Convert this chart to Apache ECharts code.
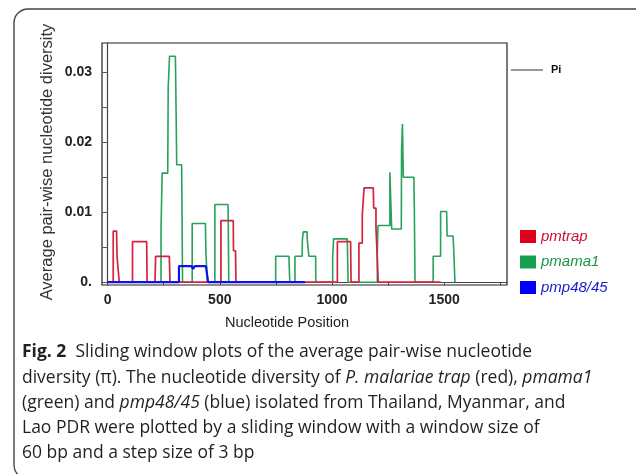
<!DOCTYPE html>
<html>
<head>
<meta charset="utf-8">
<script src="https://cdn.jsdelivr.net/npm/echarts@6/dist/echarts.min.js"></script>
<style>
  html, body { margin: 0; background: #fff; }
  #main { width: 636px; height: 474px; }
</style>
</head>
<body>
<div id="main"></div>
<script>
// sliding window vertices: position (bp) and Pi
const trapPos = [0, 25, 25, 40, 42, 50, 52, 111, 111, 174, 176, 211, 214, 275, 278,
  505, 505, 560, 561, 570, 572, 1024, 1024, 1083, 1085,
  1120, 1120, 1135, 1135, 1143, 1143, 1184, 1186, 1196, 1196, 1201, 1201, 1205, 1206, 1484];
const trapPi = [0, 0, .0073, .0073, .0037, .0037, 0, 0, .0058, .0058, 0, 0, .0037, .0037, 0,
  0, .0088, .0088, .0045, .0045, 0, 0, .0058, .0058, 0,
  0, .0056, .0056, .0096, .0096, .0135, .0135, .0106, .0106, .0079, .0079, .0041, .0041, 0, 0];

const mamaPos = [0, 238, 238, 243, 243, 268, 270, 276, 276, 302, 304, 308, 308, 330, 334,
  377, 377, 436, 438, 443, 445, 478, 478, 537, 540, 749, 749, 808, 812,
  835, 835, 867, 868, 872, 872, 889, 890, 895, 897, 927, 928,
  1003, 1003, 1007, 1007, 1068, 1072,
  1202, 1202, 1205, 1205, 1258, 1258, 1266, 1266, 1309, 1310, 1314, 1314, 1318, 1318, 1365, 1367, 1370,
  1451, 1451, 1484, 1484, 1511, 1513, 1540, 1548];
const mamaPi = [0, 0, .0075, .0075, .0156, .0156, .0278, .0278, .0323, .0323, .0278, .0278, .0168, .0168, 0,
  0, .0084, .0084, .0042, .0042, 0, 0, .0111, .0111, 0, 0, .0037, .0037, 0,
  0, .0037, .0037, .006, .006, .0072, .0072, .006, .006, .0037, .0037, 0,
  0, .0034, .0034, .0062, .0062, 0,
  0, .0045, .0045, .0081, .0081, .0157, .0157, .0076, .0076, .0187, .0187, .0226, .0226, .015, .015, .0106, 0,
  0, .0037, .0037, .0101, .0101, .0066, .0066, 0];

const mpPos = [0, 318, 318, 374, 381, 388, 438, 448, 880];
const mpPi = [0, 0, .0023, .0023, .0019, .0023, .0023, 0, 0];

const yTicks = [0, 0.005, 0.01, 0.015, 0.02, 0.025, 0.03];
const yLabels = [0, 0.01, 0.02, 0.03];
const xTicks = [0, 250, 500, 750, 1000, 1250, 1500, 1750];
const xLabels = [0, 500, 1000, 1500];

function pairs(xs, ys) {
  return xs.map((x, i) => [x, ys[i]]);
}

const chart = echarts.init(document.getElementById('main'));
const tickFont = '"Liberation Sans", Arial, sans-serif';
const capFont = '"Open Sans", "Noto Sans", sans-serif';

function capLine(y, text) {
  return {
    type: 'text', left: 22, top: y,
    style: {
      text: text,
      font: '17.5px ' + capFont,
      fill: '#231f20',
      rich: {
        b: { fontWeight: 'bold', fontSize: 17.5, fontFamily: capFont, fill: '#231f20' },
        i: { fontStyle: 'italic', fontSize: 17.5, fontFamily: capFont, fill: '#231f20' }
      }
    }
  };
}

chart.setOption({
  animation: false,
  backgroundColor: '#fff',
  grid: {
    left: 102, right: 129, top: 43, bottom: 189,
    show: true, borderColor: '#222', borderWidth: 1.2, backgroundColor: 'transparent'
  },
  xAxis: {
    type: 'value', min: -25, max: 1780,
    axisLine: { show: true, lineStyle: { color: '#444', width: 1.2 } },
    axisTick: { show: true, length: 3, lineStyle: { color: '#444' }, customValues: xTicks },
    axisLabel: {
      customValues: xLabels, margin: 8,
      fontFamily: tickFont, fontWeight: 'bold', fontSize: 14, color: '#222',
      formatter: v => String(v)
    },
    splitLine: { show: false }
  },
  yAxis: {
    type: 'value', min: -0.0004, max: 0.0342,
    axisLine: { show: true, lineStyle: { color: '#444', width: 1.2 } },
    axisTick: { show: true, length: 5, lineStyle: { color: '#555' }, customValues: yTicks },
    axisLabel: {
      customValues: yLabels, margin: 10,
      fontFamily: tickFont, fontWeight: 'bold', fontSize: 14, color: '#222',
      formatter: v => (v === 0 ? '0.' : v.toFixed(2))
    },
    splitLine: { show: false }
  },
  legend: {
    orient: 'vertical', left: 515, top: 224,
    icon: 'rect', itemWidth: 16, itemHeight: 13, itemGap: 10.5,
    textStyle: { fontFamily: tickFont, fontStyle: 'italic', fontSize: 15 },
    data: [
      { name: 'pmtrap', itemStyle: { color: '#e0001c' }, textStyle: { color: '#cc1133' } },
      { name: 'pmama1', itemStyle: { color: '#14a050' }, textStyle: { color: '#17954a' } },
      { name: 'pmp48/45', itemStyle: { color: '#0000ff' }, textStyle: { color: '#1a1acc' } }
    ]
  },
  series: [
    {
      name: 'pmama1', type: 'line', data: pairs(mamaPos, mamaPi),
      showSymbol: false, z: 2,
      lineStyle: { color: '#26a25a', width: 1.6 }, itemStyle: { color: '#26a25a' }
    },
    {
      name: 'pmtrap', type: 'line', data: pairs(trapPos, trapPi),
      showSymbol: false, z: 3,
      lineStyle: { color: '#d4223f', width: 1.7 }, itemStyle: { color: '#d4223f' }
    },
    {
      name: 'pmp48/45', type: 'line', data: pairs(mpPos, mpPi),
      showSymbol: false, z: 4,
      lineStyle: { color: '#1010e8', width: 2.2 }, itemStyle: { color: '#1010e8' }
    }
  ],
  graphic: [
    {
      type: 'rect', z: -1,
      shape: { x: 14, y: 9, width: 640, height: 470, r: 14 },
      style: { fill: 'none', stroke: '#444', lineWidth: 1.4 }
    },
    {
      type: 'text', x: 47, y: 162, rotation: Math.PI / 2,
      style: {
        text: 'Average pair-wise nucleotide diversity',
        font: '16.5px ' + tickFont, fill: '#333',
        align: 'center', verticalAlign: 'middle'
      }
    },
    {
      type: 'text', x: 287, y: 323,
      style: {
        text: 'Nucleotide Position',
        font: '14.5px ' + tickFont, fill: '#222',
        align: 'center', verticalAlign: 'middle'
      }
    },
    {
      type: 'line',
      shape: { x1: 511, y1: 70, x2: 543, y2: 70 },
      style: { stroke: '#555', lineWidth: 1.2 }
    },
    {
      type: 'text', left: 551, top: 64,
      style: { text: 'Pi', font: 'bold 11px ' + tickFont, fill: '#111' }
    },
    capLine(343, '{b|Fig. 2}  Sliding window plots of the average pair-wise nucleotide'),
    capLine(369, 'diversity (π). The nucleotide diversity of {i|P. malariae trap} (red), {i|pmama1}'),
    capLine(394, '(green) and {i|pmp48/45} (blue) isolated from Thailand, Myanmar, and'),
    capLine(419, 'Lao PDR were plotted by a sliding window with a window size of'),
    capLine(444, '60 bp and a step size of 3 bp')
  ]
});
</script>
</body>
</html>
